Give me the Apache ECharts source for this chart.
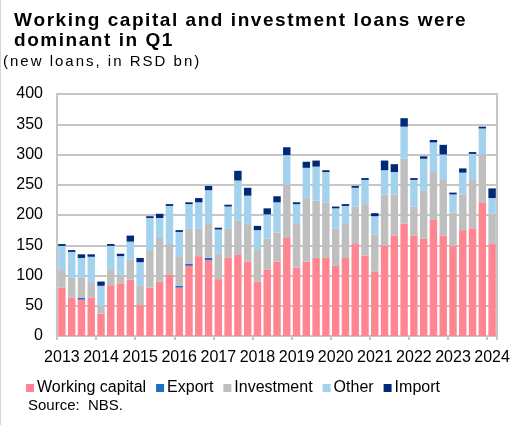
<!DOCTYPE html>
<html>
<head>
<meta charset="utf-8">
<script src="https://cdn.jsdelivr.net/npm/echarts@6/dist/echarts.min.js"></script>
<style>
  html, body { margin: 0; padding: 0; background: #ffffff; }
  #chart { width: 529px; height: 425px; }
</style>
</head>
<body>
<div id="chart"></div>
<script>
// Quarterly new loans, 2013 Q1 – 2024 Q1 (RSD bn)
const years = ['2013','2014','2015','2016','2017','2018','2019','2020','2021','2022','2023','2024'];
const quarters = ['Q1','Q2','Q3','Q4'];

const workingCapital = [80,63,60,63, 37,84,87,93, 51,80,90,101, 80,116,132,125, 94,129,135,123,
                        90,110,123,162, 113,123,129,129, 116,129,152,133, 106,149,166,186,
                        166,161,192,166, 149,175,178,221, 152];
const exportLoans    = [0,0,3,0, 0,0,0,0, 0,0,0,0, 3,3,0,4, 0,0,0,0,
                        0,0,0,0, 0,0,0,0, 0,0,0,0, 0,0,0,0,
                        0,0,0,0, 0,0,0,0, 0];
const investment     = [29,33,33,26, 13,25,15,33, 32,62,72,51, 49,59,46,58, 42,48,56,62,
                        52,51,48,88, 72,105,95,92, 62,56,62,85, 62,85,68,107,
                        48,79,79,92, 55,59,80,79, 50];
const other          = [40,43,33,42, 33,40,30,30, 39,53,33,63, 40,40,43,54, 40,37,66,47,
                        33,40,50,49, 33,50,56,50, 33,30,31,40, 30,40,37,53,
                        44,53,49,42, 30,36,43,43, 26];
const importLoans    = [3,3,6,4, 7,3,4,10, 7,3,7,3, 3,3,7,7, 3,3,16,13,
                        7,10,10,13, 3,10,10,3, 3,3,3,3, 5,16,13,14,
                        3,4,4,16, 3,7,3,3, 16];

const yTicks = [0, 50, 100, 150, 200, 250, 300, 350, 400];

// category list: one entry per quarter up to 2024 Q1
const categories = [];
years.forEach(function (y) {
  quarters.forEach(function (q) {
    if (categories.length < workingCapital.length) categories.push(y + ' ' + q);
  });
});

const FONT = '"Liberation Sans", Arial, sans-serif';
const GRID_GREY = '#c6c6c6';

// wraps every character in a rich-text fragment so the text gets a little tracking
function tracked(text, style) {
  return text.split('\n').map(function (line) {
    return line.split('').map(function (c) { return '{' + style + '|' + c + '}'; }).join('');
  }).join('\n');
}

const chart = echarts.init(document.getElementById('chart'), null, { renderer: 'canvas' });

function barSeries(name, data, color) {
  return {
    name: name,
    type: 'bar',
    stack: 'loans',
    data: data,
    barCategoryGap: '24%',
    itemStyle: { color: color },
    emphasis: { disabled: true }
  };
}

chart.setOption({
  animation: false,
  textStyle: { fontFamily: FONT },
  title: [
    {
      text: tracked('Working capital and investment loans were\ndominant in Q1', 't'),
      left: 14, top: 11, padding: 0,
      textStyle: {
        rich: {
          t: { fontFamily: FONT, fontSize: 19, fontWeight: 'bold', color: '#000',
               lineHeight: 20, padding: [0, 1.55, 0, 0] }
        }
      }
    },
    {
      text: tracked('(new loans, in RSD bn)', 'u'),
      left: 3, top: 53, padding: 0,
      textStyle: {
        rich: {
          u: { fontFamily: FONT, fontSize: 15, fontWeight: 'normal', color: '#000',
               lineHeight: 17, padding: [0, 2, 0, 0] }
        }
      }
    },
    {
      text: 'Source:  NBS.',
      left: 28, top: 398, padding: 0,
      textStyle: { fontFamily: FONT, fontSize: 15, fontWeight: 'normal', color: '#000' }
    }
  ],
  legend: {
    left: 26, top: 380, padding: 0,
    itemWidth: 8, itemHeight: 8, itemGap: 10,
    icon: 'rect',
    textStyle: { fontFamily: FONT, fontSize: 16, color: '#000', padding: [0, 0, 0, -2] },
    data: ['Working capital', 'Export', 'Investment', 'Other', 'Import']
  },
  graphic: [
    {
      type: 'line',
      shape: { x1: 0.5, y1: 0, x2: 0.5, y2: 425 },
      style: { stroke: '#d4d4d4', lineWidth: 1 }
    }
  ],
  grid: {
    left: 57, right: 32, top: 94, bottom: 89,
    show: true, borderColor: GRID_GREY, borderWidth: 2, backgroundColor: 'transparent'
  },
  xAxis: {
    type: 'category',
    data: categories,
    boundaryGap: true,
    axisLine: { lineStyle: { color: GRID_GREY, width: 2 } },
    axisTick: {
      show: true, length: 4,
      interval: function (i) { return i % 4 === 0; },
      lineStyle: { color: GRID_GREY, width: 2 }
    },
    axisLabel: {
      interval: function (i) { return i % 4 === 0; },
      formatter: function (v) { return v.split(' ')[0]; },
      fontFamily: FONT, fontSize: 16, color: '#000', margin: 14
    },
    splitLine: { show: false }
  },
  yAxis: {
    type: 'value',
    min: yTicks[0], max: yTicks[yTicks.length - 1], interval: 50,
    axisLine: { show: true, lineStyle: { color: GRID_GREY, width: 2 } },
    axisTick: { show: false },
    axisLabel: { fontFamily: FONT, fontSize: 16, color: '#000', margin: 14 },
    splitLine: { lineStyle: { color: GRID_GREY, width: 2 } }
  },
  series: [
    barSeries('Working capital', workingCapital, '#ff8591'),
    barSeries('Export', exportLoans, '#1f6fc6'),
    barSeries('Investment', investment, '#bfbfbf'),
    barSeries('Other', other, '#a3d2ee'),
    barSeries('Import', importLoans, '#002a78')
  ]
});
</script>
</body>
</html>
